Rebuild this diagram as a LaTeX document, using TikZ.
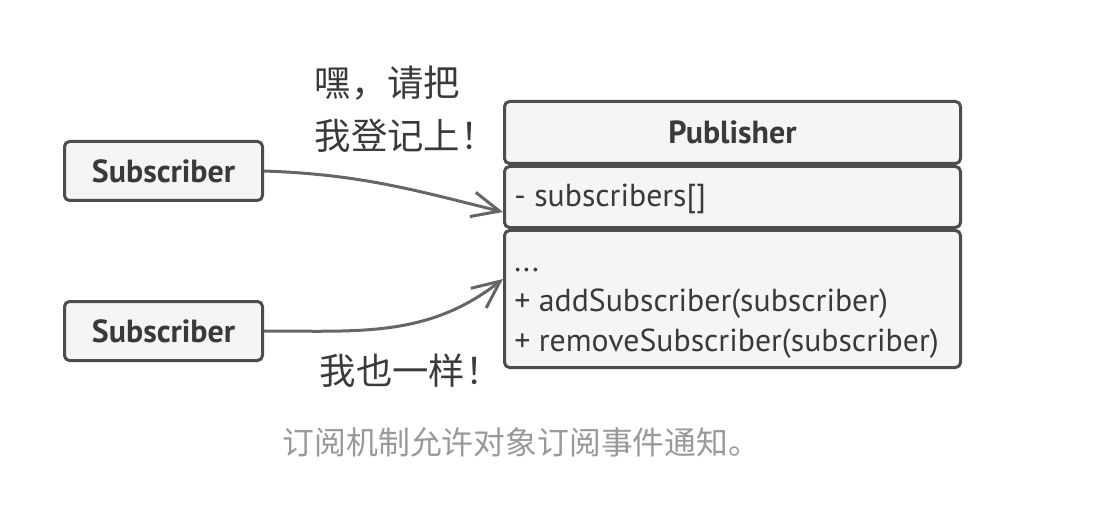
\documentclass[tikz,border=0pt]{standalone}
\usepackage{fontspec}
\setmainfont{PT Sans}
\newfontfamily\cjk{Noto Sans CJK SC}
\usetikzlibrary{positioning, calc, arrows.meta}
\definecolor{boxline}{HTML}{4D4D4D}
\definecolor{boxfill}{HTML}{F5F5F5}
\definecolor{arrowline}{HTML}{666666}
\definecolor{testo}{HTML}{3A3A3A}
\definecolor{didascalia}{HTML}{999999}
\tikzset{
    classbox/.style={draw=boxline, fill=boxfill, line width=0.06cm, rounded corners=0.1cm, text=testo},
    msg/.style={->, >={Straight Barb[length=0.55cm, width=0.5cm]}, arrowline, line width=0.06cm},
    fumetto/.style={text=testo, font=\cjk\fontsize{20.7}{30}\selectfont, align=left}
}

\begin{document}
\begin{tikzpicture}
        \useasboundingbox (0,0) rectangle (22.04,10.44);
        %subscriber
        \node[classbox, minimum width=3.96cm, minimum height=1.18cm, font=\bfseries\fontsize{18.2}{20}\selectfont] (sub1) at (3.27,7.02) {Subscriber};
        \node[classbox, minimum width=3.96cm, minimum height=1.18cm, font=\bfseries\fontsize{18.2}{20}\selectfont] (sub2) at (3.27,3.82) {Subscriber};
        %publisher
        \node[classbox, anchor=north, minimum width=9.12cm, minimum height=1.24cm, font=\bfseries\fontsize{18.2}{20}\selectfont] (pubname) at (14.65,8.44) {Publisher};
        \node[classbox, below=0pt of pubname, minimum width=9.12cm, minimum height=1.22cm] (pubattr) {};
        \node[anchor=west, text=testo, inner sep=0pt, font=\fontsize{18.1}{22.8}\selectfont] (attrtext) at ([xshift=0.22cm, yshift=-0.04cm]pubattr.west) {-~subscribers[]};
        \node[classbox, below=0pt of pubattr, minimum width=9.12cm, minimum height=2.74cm] (pubops) {};
        \node[anchor=west, align=left, text=testo, inner sep=0pt, font=\fontsize{18.1}{22.8}\selectfont] (opstext) at ([xshift=0.22cm, yshift=-0.28cm]pubops.west) {...\\+ addSubscriber(subscriber)\\+ removeSubscriber(subscriber)};
        
        %frecce
        \coordinate (in1) at ([yshift=-0.3cm]pubattr.west);
        \coordinate (in2) at ([yshift=0.4cm]pubops.west);
        \draw[msg] (sub1.east) to[out=-2, in=166] (in1);
        \draw[msg] (sub2.east) to[out=0, in=218] (in2);
        
        %fumetti
        \node[fumetto, anchor=west] (hey) at (6.17,8.25) {嘿，请把\\我登记上！};
        \node[fumetto, anchor=west] (anche) at (6.27,3.02) {我也一样！};
        %didascalia
        \node[text=didascalia, font=\cjk\fontsize{18.1}{20}\selectfont] (caption) at (10.43,1.6) {订阅机制允许对象订阅事件通知。};
    \end{tikzpicture}
\end{document}
